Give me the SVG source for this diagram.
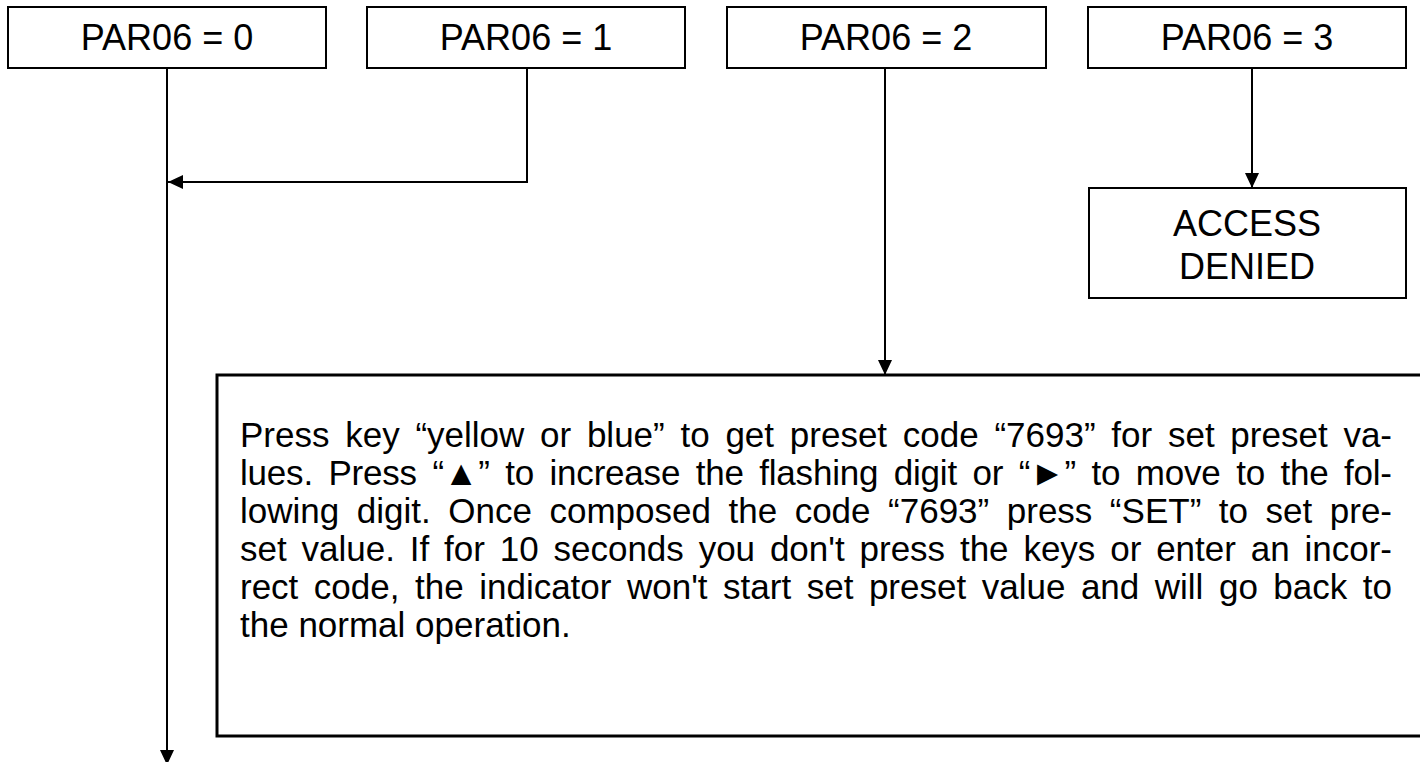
<svg xmlns="http://www.w3.org/2000/svg" width="1420" height="762" viewBox="0 0 1420 762">
<style>
.box{fill:#fff;stroke:#000;stroke-width:2}
.big{fill:#fff;stroke:#000;stroke-width:3}
.t{font-family:"Liberation Sans",Arial,sans-serif;font-size:36px;fill:#000;text-anchor:middle}
.p{font-family:"Liberation Sans",Arial,"DejaVu Sans",sans-serif;font-size:35px;fill:#000}
.c{fill:none;stroke:#000;stroke-width:2}
</style>
<defs>
<marker id="ah" viewBox="0 0 15 14" refX="15" refY="7" markerWidth="15" markerHeight="14" markerUnits="userSpaceOnUse" orient="auto">
<path d="M0,0 L15,7 L0,14 Z" fill="#000"/>
</marker>
</defs>
<rect width="1420" height="762" fill="#fff"/>
<g id="connectors">
<path class="c" d="M167,68 V765" marker-end="url(#ah)"/>
<path class="c" d="M527,68 V182 H168" marker-end="url(#ah)"/>
<path class="c" d="M885,68 V375" marker-end="url(#ah)"/>
<path class="c" d="M1252,68 V188" marker-end="url(#ah)"/>
</g>
<g id="n0"><rect class="box" x="8" y="7" width="318" height="61"/><text class="t" x="167" y="50">PAR06 = 0</text></g>
<g id="n1"><rect class="box" x="367" y="7" width="318" height="61"/><text class="t" x="526" y="50">PAR06 = 1</text></g>
<g id="n2"><rect class="box" x="727" y="7" width="319" height="61"/><text class="t" x="886" y="50">PAR06 = 2</text></g>
<g id="n3"><rect class="box" x="1088" y="7" width="318" height="61"/><text class="t" x="1247" y="50">PAR06 = 3</text></g>
<g id="n4"><rect class="box" x="1089" y="188" width="317" height="110"/><text class="t" x="1247" y="236">ACCESS</text><text class="t" x="1247" y="279">DENIED</text></g>
<g id="n5"><rect class="big" x="217" y="375" width="1220" height="361"/>
<text class="p" x="240" y="447" word-spacing="6" textLength="1152" lengthAdjust="spacing">Press key “yellow or blue” to get preset code “7693” for set preset va-</text>
<text class="p" x="240" y="485" word-spacing="6" textLength="1152" lengthAdjust="spacing">lues. Press “▲” to increase the flashing digit or “►” to move to the fol-</text>
<text class="p" x="240" y="523" word-spacing="7.8" textLength="1152" lengthAdjust="spacing">lowing digit. Once composed the code “7693” press “SET” to set pre-</text>
<text class="p" x="240" y="561" word-spacing="5.1" textLength="1152" lengthAdjust="spacing">set value. If for 10 seconds you don't press the keys or enter an incor-</text>
<text class="p" x="240" y="599" word-spacing="5.8" textLength="1152" lengthAdjust="spacing">rect code, the indicator won't start set preset value and will go back to</text>
<text class="p" x="240" y="637">the normal operation.</text>
</g>
</svg>
